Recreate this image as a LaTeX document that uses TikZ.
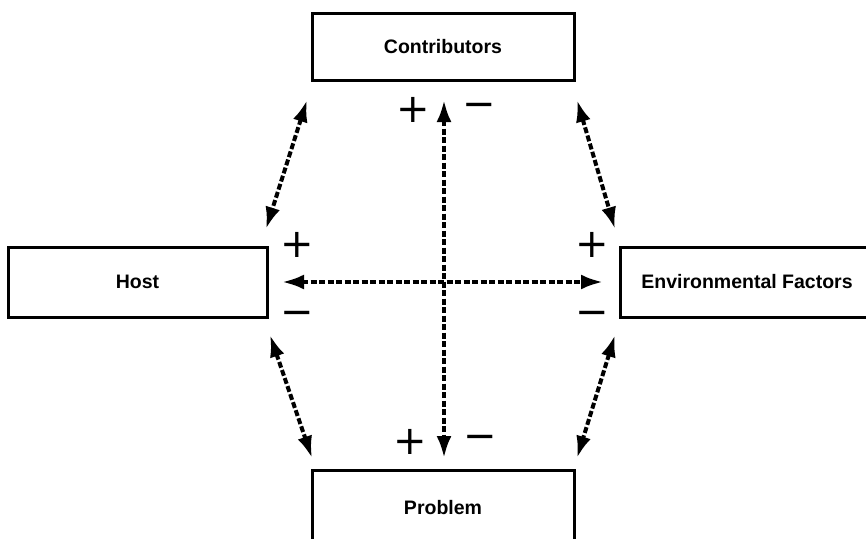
\documentclass[tikz,border=0pt]{standalone}
\usepackage{fontspec}
\setmainfont{Liberation Sans}
\newfontfamily\signfont{DejaVu Sans}
\usetikzlibrary{arrows.meta}
\begin{document}
\begin{tikzpicture}[x=1pt,y=-1pt,
  box/.style={draw, line width=3pt, inner sep=0pt, font=\bfseries\fontsize{19.5}{22}\selectfont},
  sgn/.style={font=\signfont\fontsize{40}{40}\selectfont, inner sep=0pt},
  tipx/.tip={Latex[length=22pt,width=15pt]},
  link/.style={line width=4pt, dash pattern=on 6pt off 2.5pt, tipx-tipx}]
\useasboundingbox (0,0) rectangle (866,538);
\fill[white] (0,0) rectangle (866,538);
% boxes
\node[box, minimum width=262pt, minimum height=67pt] (contrib) at (443,46.5) {Contributors};
\node[box, minimum width=259pt, minimum height=70pt] (host) at (137.5,282) {Host};
\node[box, minimum width=254pt, minimum height=70pt] (env) at (747,282) {Environmental Factors};
\node[box, minimum width=262pt, minimum height=76pt] (prob) at (443,508) {Problem};
% connector ends
\coordinate (vt) at (444,100);
\coordinate (vb) at (444,458);
\coordinate (hl) at (282,282);
\coordinate (hr) at (603,282);
\coordinate (ult) at (307,100);
\coordinate (ulb) at (266,229);
\coordinate (urt) at (577,100);
\coordinate (urb) at (615,229);
\coordinate (llt) at (270,335);
\coordinate (llb) at (312,458);
\coordinate (lrt) at (615,335);
\coordinate (lrb) at (577,458);
% connectors
\draw[link] (vt) -- (vb);
\draw[link] (hl) -- (hr);
\draw[link] (ult) -- (ulb);
\draw[link] (urt) -- (urb);
\draw[link] (llt) -- (llb);
\draw[link] (lrt) -- (lrb);
% signs
\node[sgn] (tp) at (413,110) {+};
\node[sgn] (tm) at (479,110) {−};
\node[sgn] (bp) at (410,442) {+};
\node[sgn] (bm) at (480,442) {−};
\node[sgn] (lp) at (297,245) {+};
\node[sgn] (lm) at (297,318) {−};
\node[sgn] (rp) at (592,245) {+};
\node[sgn] (rm) at (592,318) {−};
\end{tikzpicture}
\end{document}
